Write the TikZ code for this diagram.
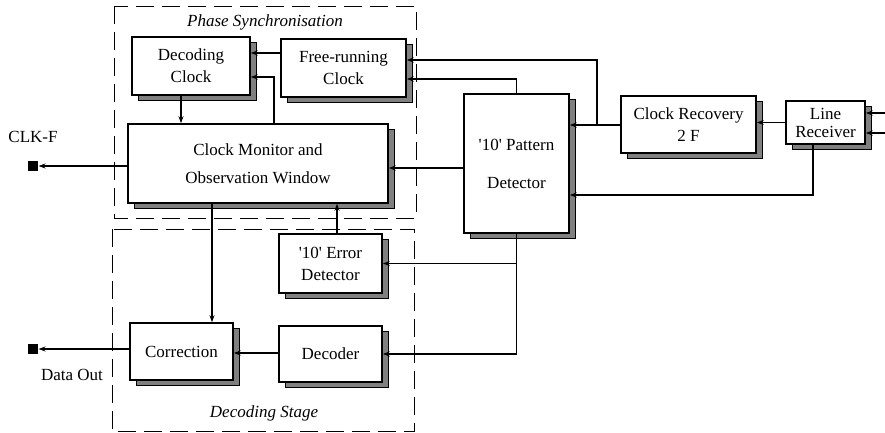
\documentclass[tikz,border=0pt]{standalone}
\usepackage{fontspec}
\setmainfont{Liberation Serif}
\usetikzlibrary{arrows.meta,shadows}

\begin{document}
\begin{tikzpicture}[x=1pt,y=-1pt,->,>={Stealth[length=7pt,width=5pt]},line width=1.1pt,
	font=\fontsize{17}{22}\selectfont]
	\tikzstyle{block}=[rectangle,draw,line width=1.6pt,fill=white,align=center,inner sep=2pt,
		drop shadow={shadow xshift=6pt,shadow yshift=-5pt,opacity=1,fill=black!50,draw=black,line width=0.8pt}]
	\tikzstyle{stage}=[draw,-,line width=0.7pt,dash pattern=on 18pt off 8pt]
	\tikzstyle{port}=[rectangle,fill=black,minimum size=10pt,inner sep=0pt]
	\tikzstyle{title}=[font=\fontsize{17}{20}\selectfont\itshape]

	\useasboundingbox (0,0) rectangle (885,433);

	% the two stages
	\draw[stage] (114,6) rectangle (416,218);
	\draw[stage] (112,229) rectangle (414,431);
	\node[title] (phase) at (265,22) {Phase Synchronisation};
	\node[title] (stage) at (264,413) {Decoding Stage};

	% blocks
	\node[block,minimum width=118pt,minimum height=58pt] (dclk) at (191,66) {Decoding\\Clock};
	\node[block,minimum width=125pt,minimum height=58pt] (frclk) at (343.5,68) {Free-running\\Clock};
	\node[block,minimum width=260pt,minimum height=79pt] (cmon) at (258,163.5) {Clock Monitor and\\[6pt]Observation Window};
	\node[block,minimum width=105pt,minimum height=139pt] (pat) at (516.5,163.5) {\textquotesingle 10\textquotesingle\ Pattern\\[16pt]Detector};
	\node[block,minimum width=135pt,minimum height=57pt] (crec) at (688.5,124.5) {Clock Recovery\\2 F};
	\node[block,minimum width=79pt,minimum height=43pt,font=\fontsize{17}{18}\selectfont] (lrec) at (825.5,122.5) {Line\\Receiver};
	\node[block,minimum width=103pt,minimum height=59pt] (err) at (330.5,263.5) {\textquotesingle 10\textquotesingle\ Error\\Detector};
	\node[block,minimum width=103pt,minimum height=57pt] (corr) at (181.5,351.5) {Correction};
	\node[block,minimum width=103pt,minimum height=56pt] (dec) at (330.5,354) {Decoder};

	% outputs
	\foreach \name/\y in {clkf/166, dout/349}
	\node[port] (\name) at (33,\y) {};
	\node (clkflabel) at (33,137) {CLK-F};
	\node (doutlabel) at (72,375) {Data Out};

	% inputs of the line receiver
	\foreach \name/\y in {in1/113, in2/133}
	\coordinate (\name) at (885,\y);
	\foreach \name in {in1,in2}
	\draw (\name) -- (lrec.east |- \name);

	\coordinate (tap) at (597,125);

	\draw (lrec.west) -- (crec.east |- lrec.west);
	\draw (crec.west |- tap) -- (pat.east |- tap);
	\draw (tap) |- (frclk.east |- 0,60);
	\draw (pat.north) |- (frclk.east |- 0,79);
	\draw (lrec.south -| 813,0) |- (pat.east |- 0,195);
	\draw (pat.west |- 0,168) -- (cmon.east |- 0,168);

	\draw (frclk.west |- 0,53) -- (dclk.east |- 0,53);
	\draw (cmon.north -| 274,0) |- (dclk.east |- 0,77);
	\draw (dclk.south -| 181,0) -- (cmon.north -| 181,0);
	\draw (cmon.west |- clkf) -- (clkf);

	\draw (pat.south) |- (err.east);
	\draw (pat.south) |- (dec.east);
	\draw (err.north -| 337,0) -- (cmon.south -| 337,0);
	\draw (cmon.south -| 212,0) -- (corr.north -| 212,0);
	\draw (dec.west |- 0,353) -- (corr.east |- 0,353);
	\draw (corr.west |- dout) -- (dout);

\end{tikzpicture}
\end{document}
